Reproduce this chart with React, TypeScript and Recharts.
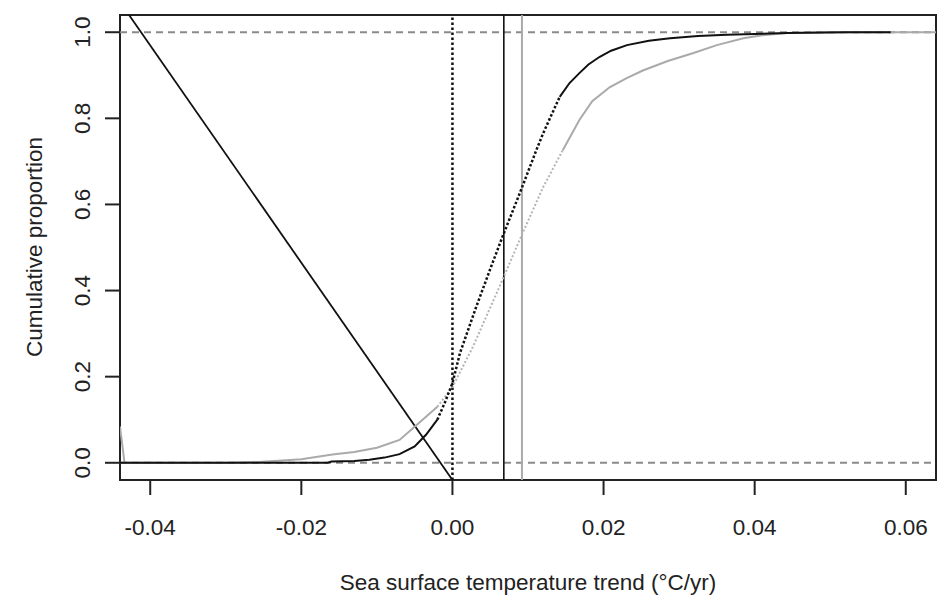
import React from "react";
import {
  LineChart, Line, XAxis, YAxis, ReferenceLine, ReferenceArea,
} from "recharts";

// black ECDF (observed trends)
const blackX = [-0.044, -0.0165, -0.016, -0.013, -0.011, -0.009, -0.007, -0.005, -0.0035, -0.002, -0.001, 0, 0.001, 0.003, 0.005, 0.0066, 0.009, 0.0111, 0.012, 0.0129, 0.0142, 0.0155, 0.0168, 0.018, 0.0195, 0.021, 0.0231, 0.026, 0.0288, 0.0325, 0.0363, 0.0443, 0.052, 0.058];
const blackY = [0, 0, 0.003, 0.004, 0.007, 0.012, 0.02, 0.038, 0.065, 0.1, 0.14, 0.185, 0.255, 0.355, 0.45, 0.524, 0.63, 0.726, 0.765, 0.8, 0.85, 0.882, 0.905, 0.925, 0.943, 0.957, 0.97, 0.98, 0.986, 0.991, 0.994, 0.998, 1, 1];

// gray ECDF
const grayX = [-0.044, -0.0434, -0.03, -0.0256, -0.02, -0.0159, -0.013, -0.01, -0.007, -0.0044, -0.002, 0, 0.0027, 0.006, 0.0093, 0.012, 0.0146, 0.0168, 0.0185, 0.0208, 0.023, 0.0252, 0.0285, 0.0318, 0.035, 0.0385, 0.041, 0.0443, 0.05, 0.064];
const grayY = [0.084, 0, 0, 0.002, 0.008, 0.019, 0.025, 0.035, 0.053, 0.093, 0.13, 0.176, 0.269, 0.4, 0.534, 0.64, 0.726, 0.796, 0.84, 0.872, 0.893, 0.911, 0.933, 0.951, 0.97, 0.986, 0.993, 0.998, 1, 1];

const xTicks = [-0.04, -0.02, 0, 0.02, 0.04, 0.06];
const yTicks = [0, 0.2, 0.4, 0.6, 0.8, 1.0];
const xDomain = [-0.044, 0.064];
const yDomain = [-0.04, 1.04];

const blackMean = 0.0068;
const grayMean = 0.0092;
const diagonal = [
  { x: -0.0428, y: 1.04 },
  { x: 0, y: -0.04 },
];

// steep middle part is drawn dotted, tails solid
const DOT_FROM = -0.002;
const blackDotTo = 0.0142;
const grayDotTo = 0.0146;

type Pt = { x: number; y: number };
const zip = (xs: number[], ys: number[]): Pt[] => xs.map((x, i) => ({ x, y: ys[i] }));
const black = zip(blackX, blackY);
const gray = zip(grayX, grayY);

const FONT = "'Liberation Sans', Arial, Helvetica, sans-serif";
const TEXT = "#222";

function XTick(props: any) {
  const { x, y, payload } = props;
  return (
    <text x={x} y={y + 40} textAnchor="middle" fontSize={22.5} fill={TEXT} fontFamily={FONT}>
      {payload.value.toFixed(2)}
    </text>
  );
}

function YTick(props: any) {
  const { x, y, payload } = props;
  const tx = x - 15;
  return (
    <text x={tx} y={y} transform={`rotate(-90, ${tx}, ${y})`} textAnchor="middle"
      fontSize={22.5} fill={TEXT} fontFamily={FONT}>
      {payload.value.toFixed(1)}
    </text>
  );
}

export default function App() {
  const bLeft = black.filter((p) => p.x <= DOT_FROM);
  const bMid = black.filter((p) => p.x >= DOT_FROM && p.x <= blackDotTo);
  const bRight = black.filter((p) => p.x >= blackDotTo);
  const gLeft = gray.filter((p) => p.x <= DOT_FROM);
  const gMid = gray.filter((p) => p.x >= DOT_FROM && p.x <= grayDotTo);
  const gRight = gray.filter((p) => p.x >= grayDotTo);

  return (
    <div style={{ position: "absolute", left: 0, top: 0, width: 938, height: 597, background: "#fff", fontFamily: FONT }}>
      <LineChart width={938} height={597} margin={{ top: 15, right: 2, bottom: 0, left: 0 }}>
        <XAxis
          type="number"
          dataKey="x"
          domain={xDomain}
          ticks={xTicks}
          allowDataOverflow
          axisLine={false}
          tickLine={{ stroke: "#222", strokeWidth: 2 }}
          tickSize={15}
          tickMargin={0}
          height={117}
          tick={<XTick />}
          label={{
            content: () => (
              <text x={528} y={590} textAnchor="middle" fontSize={22.5} fill={TEXT} fontFamily={FONT}>
                Sea surface temperature trend (°C/yr)
              </text>
            ),
          }}
        />
        <YAxis
          type="number"
          dataKey="y"
          domain={yDomain}
          ticks={yTicks}
          allowDataOverflow
          axisLine={false}
          tickLine={{ stroke: "#222", strokeWidth: 2 }}
          tickSize={15}
          tickMargin={0}
          width={120}
          tick={<YTick />}
          label={{
            content: () => (
              <text x={42} y={247} transform="rotate(-90, 42, 247)" textAnchor="middle"
                fontSize={22.5} fill={TEXT} fontFamily={FONT}>
                Cumulative proportion
              </text>
            ),
          }}
        />

        <ReferenceLine y={0} stroke="#8a8a8a" strokeWidth={2} strokeDasharray="7 5" />
        <ReferenceLine y={1} stroke="#8a8a8a" strokeWidth={2} strokeDasharray="7 5" />
        <ReferenceLine x={0} stroke="#111" strokeWidth={2.5} strokeDasharray="2.5 2.5" />
        <ReferenceLine x={blackMean} stroke="#111" strokeWidth={1.6} />
        <ReferenceLine x={grayMean} stroke="#aaa" strokeWidth={2} />
        <ReferenceLine segment={diagonal} stroke="#111" strokeWidth={1.8} />

        <Line data={gLeft} dataKey="y" type="linear" stroke="#aaa" strokeWidth={2} dot={false} isAnimationActive={false} />
        <Line data={gMid} dataKey="y" type="linear" stroke="#b4b4b4" strokeWidth={2} strokeDasharray="2 2" dot={false} isAnimationActive={false} />
        <Line data={gRight} dataKey="y" type="linear" stroke="#aaa" strokeWidth={2} dot={false} isAnimationActive={false} />
        <Line data={bLeft} dataKey="y" type="linear" stroke="#111" strokeWidth={2} dot={false} isAnimationActive={false} />
        <Line data={bMid} dataKey="y" type="linear" stroke="#111" strokeWidth={2.5} strokeDasharray="2.5 2" dot={false} isAnimationActive={false} />
        <Line data={bRight} dataKey="y" type="linear" stroke="#111" strokeWidth={2} dot={false} isAnimationActive={false} />

        <ReferenceArea
          x1={xDomain[0]} x2={xDomain[1]} y1={yDomain[0]} y2={yDomain[1]}
          fill="none" fillOpacity={0} stroke="#222" strokeWidth={2} ifOverflow="visible"
        />
      </LineChart>
    </div>
  );
}
